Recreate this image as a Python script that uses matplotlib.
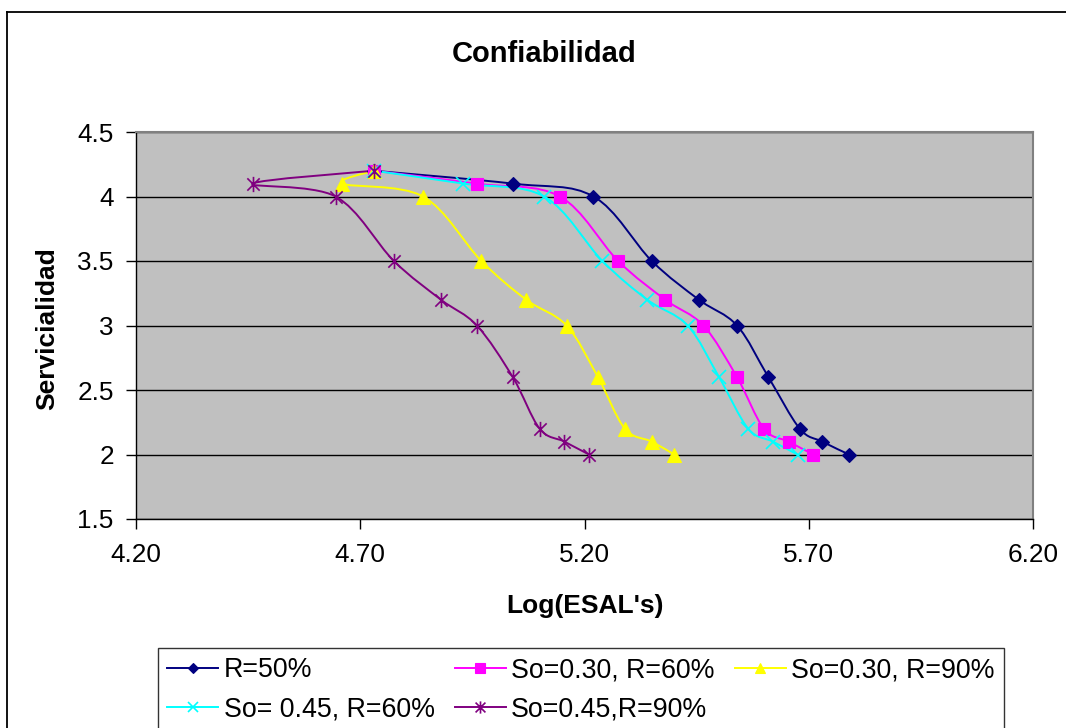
import matplotlib

matplotlib.use("Agg")
import matplotlib.pyplot as plt
import numpy as np
from matplotlib.lines import Line2D
from matplotlib.patches import PathPatch
from matplotlib.path import Path

plt.rcParams["font.family"] = "Liberation Sans"

# Servicialidad levels shared by every curve (top of the curve first)
servicialidad = [4.2, 4.1, 4.0, 3.5, 3.2, 3.0, 2.6, 2.2, 2.1, 2.0]

# Log(ESAL's) reached at each servicialidad level
r50 = [4.73, 5.04, 5.22, 5.35, 5.455, 5.54, 5.61, 5.68, 5.73, 5.79]
so30_r60 = [4.73, 4.96, 5.145, 5.275, 5.38, 5.465, 5.54, 5.60, 5.655, 5.71]
so30_r90 = [4.73, 4.66, 4.84, 4.97, 5.07, 5.16, 5.23, 5.29, 5.35, 5.40]
so45_r60 = [4.73, 4.93, 5.11, 5.24, 5.34, 5.43, 5.50, 5.565, 5.62, 5.675]
so45_r90 = [4.73, 4.46, 4.645, 4.775, 4.88, 4.96, 5.04, 5.10, 5.155, 5.21]

labels = ["R=50%", "So=0.30, R=60%", "So=0.30, R=90%",
          "So= 0.45, R=60%", "So=0.45,R=90%"]
x_ticks = [4.20, 4.70, 5.20, 5.70, 6.20]
y_ticks = [1.5, 2.0, 2.5, 3.0, 3.5, 4.0, 4.5]

# asterisk marker: an x with a vertical stroke
ASTERISK = Path(
    [(-0.5, -0.5), (0.5, 0.5), (-0.5, 0.5), (0.5, -0.5), (0, -0.62), (0, 0.62)],
    [Path.MOVETO, Path.LINETO, Path.MOVETO, Path.LINETO, Path.MOVETO, Path.LINETO],
)

styles = [
    dict(color="#000080", marker="D", ms=7.0, mew=0.8),
    dict(color="#FF00FF", marker="s", ms=8.5, mew=0.8),
    dict(color="#FFFF00", marker="^", ms=9.5, mew=0.8),
    dict(color="#00FFFF", marker="x", ms=9.5, mew=1.2),
    dict(color="#800080", marker=ASTERISK, ms=11, mew=1.2),
]


def smooth_path(xs, ys):
    """Bezier path through the points with Catmull-Rom style tangents."""
    pts = np.column_stack([xs, ys]).astype(float)
    n = len(pts)
    verts = [pts[0]]
    codes = [Path.MOVETO]
    for i in range(n - 1):
        p0 = pts[i - 1] if i > 0 else pts[i]
        p1 = pts[i]
        p2 = pts[i + 1]
        p3 = pts[i + 2] if i + 2 < n else pts[i + 1]
        verts += [p1 + (p2 - p0) / 6.0, p2 - (p3 - p1) / 6.0, p2]
        codes += [Path.CURVE4] * 3
    return Path(verts, codes)


W, H = 1066, 728
fig = plt.figure(figsize=(W / 100, H / 100), dpi=100)
ax = fig.add_axes([136 / W, 1 - 519 / H, 897 / W, 387 / H])
ax.set_facecolor("#C0C0C0")

series = [r50, so30_r60, so30_r90, so45_r60, so45_r90]
handles = []
for xs, st, lab in zip(series, styles, labels):
    ax.add_patch(PathPatch(smooth_path(xs, servicialidad), facecolor="none",
                           edgecolor=st["color"], lw=1.4, zorder=3))
    ax.plot(xs, servicialidad, linestyle="none", marker=st["marker"],
            ms=st["ms"], color=st["color"], mec=st["color"], mew=st["mew"],
            zorder=4)
    handles.append(Line2D([], [], color=st["color"], lw=1.4, marker=st["marker"],
                          ms=st["ms"] * 0.8, mec=st["color"], mew=st["mew"]))

ax.set_xlim(4.20, 6.20)
ax.set_ylim(1.5, 4.5)
ax.set_xticks(x_ticks)
ax.set_xticklabels(["%.2f" % v for v in x_ticks])
ax.set_yticks(y_ticks)
ax.set_yticklabels(["%g" % v for v in y_ticks])
ax.tick_params(direction="out", length=7, width=1, labelsize=18.8, color="black")
ax.tick_params(axis="x", pad=10)
ax.tick_params(axis="y", pad=9)
ax.yaxis.grid(True, color="black", lw=1)
ax.set_axisbelow(True)
for side in ("top", "right"):
    ax.spines[side].set_color("#808080")
    ax.spines[side].set_linewidth(1.5)
for side in ("left", "bottom"):
    ax.spines[side].set_color("black")
    ax.spines[side].set_linewidth(1)

fig.text(544 / W, 1 - 54 / H, "Confiabilidad", ha="center", va="center",
         fontsize=21, fontweight="bold")
fig.text(585 / W, 1 - 606 / H, "Log(ESAL's)", ha="center", va="center",
         fontsize=19, fontweight="bold")
fig.text(47 / W, 1 - 329 / H, "Servicialidad", ha="center", va="center",
         fontsize=19, fontweight="bold", rotation=90)

# legend fills row by row: reorder for matplotlib's column-major layout
order = [0, 3, 1, 4, 2]
leg = fig.legend([handles[i] for i in order], [labels[i] for i in order],
                 loc="upper left", bbox_to_anchor=(158 / W, 1 - 648 / H),
                 ncol=3, fontsize=19.3, frameon=True, fancybox=False,
                 borderaxespad=0, borderpad=0.35, labelspacing=0.5,
                 handlelength=1.9, handletextpad=0.2, columnspacing=0.75)
leg.get_frame().set_edgecolor("black")
leg.get_frame().set_linewidth(1)

# outer chart frame (left and top edges)
fig.add_artist(Line2D([7 / W, 7 / W], [0, 1 - 12 / H], color="black", lw=1.3))
fig.add_artist(Line2D([7 / W, 1], [1 - 12 / H, 1 - 12 / H], color="black", lw=1.3))

fig.savefig("out.png", dpi=100)
